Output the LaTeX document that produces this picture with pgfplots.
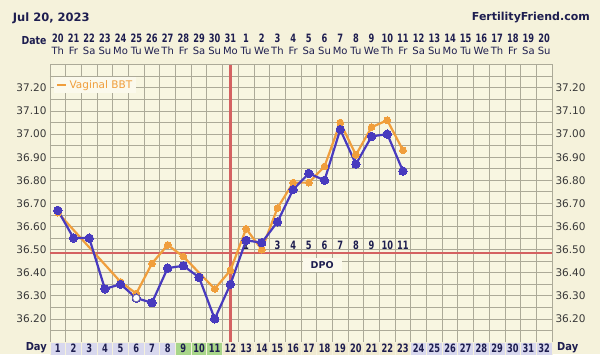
\documentclass[border=0pt]{standalone}
\usepackage{fontspec}
\setmainfont{DejaVu Sans}
\usepackage{graphicx}
\usepackage{pgfplots}
\pgfplotsset{compat=1.18}
\definecolor{outerbg}{RGB}{245,242,219}
\definecolor{plotbg}{RGB}{248,246,225}
\definecolor{gridc}{RGB}{172,170,152}
\definecolor{bbtblue}{RGB}{72,58,190}
\definecolor{bbtorange}{RGB}{240,158,60}
\definecolor{cover}{RGB}{212,98,98}
\definecolor{navy}{RGB}{30,30,80}
\definecolor{lav}{RGB}{216,216,238}
\definecolor{grn}{RGB}{168,214,138}
\definecolor{beige}{RGB}{240,234,208}
\definecolor{legbg}{RGB}{251,249,236}
\newcommand{\nb}[1]{\scalebox{0.72}[1]{\bfseries #1}}
\begin{document}
\begin{tikzpicture}
\fill[outerbg] (-50pt,-12pt) rectangle (550pt,342pt);
\useasboundingbox (-50pt,-12pt) rectangle (550pt,342pt);
% header
\node[anchor=base west, text=navy, font=\fontsize{11.5}{13}\selectfont\bfseries, inner sep=0pt] at (-37.3pt,320pt) {Jul 20, 2023};
\node[anchor=base east, text=navy, font=\fontsize{11}{13}\selectfont\bfseries, inner sep=0pt] at (540pt,321pt) {FertilityFriend.com};
\node[anchor=base east, text=navy, font=\fontsize{11}{12}\selectfont\bfseries, inner sep=0pt] at (-3.3pt,297pt) {\scalebox{0.85}[1]{Date}};
\node[anchor=east, text=navy, font=\fontsize{11}{12}\selectfont\bfseries, inner sep=0pt] at (-3pt,-6pt) {\scalebox{0.9}[1]{Day}};
\node[anchor=west, text=navy, font=\fontsize{11}{12}\selectfont\bfseries, inner sep=0pt] at (5pt+502pt,-6pt) {\scalebox{0.9}[1]{Day}};
\begin{axis}[
  scale only axis, width=502pt, height=277.2pt,
  xmin=0.5, xmax=32.5, ymin=36.10, ymax=37.30,
  axis background/.style={fill=plotbg},
  xtick={1,...,32},
  xticklabel pos=top,
  xticklabels={Th,Fr,Sa,Su,Mo,Tu,We,Th,Fr,Sa,Su,Mo,Tu,We,Th,Fr,Sa,Su,Mo,Tu,We,Th,Fr,Sa,Su,Mo,Tu,We,Th,Fr,Sa,Su},
  xticklabel style={anchor=base, yshift=9.8pt, inner sep=0pt, text=navy, font=\fontsize{10}{12}\selectfont},
  minor xtick={1.5,2.5,...,31.5},
  ytick={36.2,36.3,36.4,36.5,36.6,36.7,36.8,36.9,37.0,37.1,37.2},
  minor ytick={36.15,36.25,36.35,36.45,36.55,36.65,36.75,36.85,36.95,37.05,37.15,37.25},
  yticklabel={\pgfmathprintnumber[fixed,fixed zerofill,precision=2,assume math mode=true]{\tick}},
  yticklabel style={text=black!78, font=\fontsize{10.5}{12}\selectfont},
  xmajorgrids=false, xminorgrids=true, ymajorgrids=true, yminorgrids=true,
  major grid style={gridc, line width=0.8pt},
  minor grid style={gridc, line width=0.8pt},
  major tick length=0pt, minor tick length=0pt,
  axis line style={gridc, line width=0.8pt},
  clip=false,
  legend style={at={(rel axis cs:0.008,0.958)}, anchor=north west, fill=legbg, draw=none,
    font=\fontsize{10.5}{12}\selectfont, text=bbtorange, inner xsep=2pt, inner ysep=1.5pt},
  legend image code/.code={\draw[bbtorange, line width=2.4pt] (0pt,0pt) -- (9pt,0pt);},
]
% day row cells
\pgfplotsinvokeforeach{1,...,8}{\filldraw[fill=lav, draw=outerbg, line width=0.8pt] (axis cs:{#1-0.5},36.10) rectangle (axis cs:{#1+0.5},36.03);}
\pgfplotsinvokeforeach{9,10,11}{\filldraw[fill=grn, draw=outerbg, line width=0.8pt] (axis cs:{#1-0.5},36.10) rectangle (axis cs:{#1+0.5},36.03);}
\pgfplotsinvokeforeach{12,...,23}{\filldraw[fill=beige, draw=outerbg, line width=0.8pt] (axis cs:{#1-0.5},36.10) rectangle (axis cs:{#1+0.5},36.03);}
\pgfplotsinvokeforeach{24,...,32}{\filldraw[fill=lav, draw=outerbg, line width=0.8pt] (axis cs:{#1-0.5},36.10) rectangle (axis cs:{#1+0.5},36.03);}
\pgfplotsinvokeforeach{1,...,32}{\node[text=navy, font=\fontsize{11.5}{12}\selectfont, inner sep=0pt] at (axis cs:#1,36.10) [yshift=-6.3pt] {\nb{#1}};}
% coverline and ovulation line
\addplot[cover, line width=2.6pt, forget plot] coordinates {(0.5,36.485) (32.5,36.485)};
\addplot[cover, line width=2.6pt, forget plot] coordinates {(12,36.10) (12,37.30)};
% vaginal BBT (orange)
\addplot[bbtorange, line width=2.2pt, mark=*, mark size=3.4pt, mark options={fill=bbtorange, draw=bbtorange, line width=0pt}]
 coordinates {(1,36.66)(5,36.36)(6,36.31)(7,36.44)(8,36.52)(9,36.47)(11,36.33)(12,36.41)(13,36.59)(14,36.50)(15,36.68)(16,36.79)(17,36.79)(18,36.86)(19,37.05)(20,36.91)(21,37.03)(22,37.06)(23,36.93)};
\addlegendentry{Vaginal BBT}
% BBT (blue)
\addplot[bbtblue, line width=2.2pt, mark=*, mark size=4.2pt, mark options={fill=bbtblue, draw=bbtblue, line width=0pt}, forget plot]
 coordinates {(1,36.67)(2,36.55)(3,36.55)(4,36.33)(5,36.35)(6,36.29)(7,36.27)(8,36.42)(9,36.43)(10,36.38)(11,36.20)(12,36.35)(13,36.54)(14,36.53)(15,36.62)(16,36.76)(17,36.83)(18,36.80)(19,37.02)(20,36.87)(21,36.99)(22,37.00)(23,36.84)};
\addplot[only marks, mark=*, mark size=3.6pt, mark options={fill=white, draw=gray!70!bbtblue, line width=0.6pt}, forget plot] coordinates {(6,36.29)};
% DPO
\pgfplotsinvokeforeach{1,...,11}{\node[text=navy, font=\fontsize{11.5}{12}\selectfont, inner sep=0pt] at (axis cs:{#1+12},36.517) {\nb{#1}};}
\node[fill=legbg, text=navy, font=\fontsize{9.5}{11}\selectfont\bfseries, inner xsep=8pt, inner ysep=3pt] at (axis cs:17.85,36.433) {DPO};
\end{axis}
\begin{axis}[
  scale only axis, width=502pt, height=277.2pt,
  xmin=0.5, xmax=32.5, ymin=36.10, ymax=37.30,
  axis line style={draw=none}, major tick length=0pt,
  xtick={1,...,32}, xticklabel pos=top,
  xticklabels={\nb{20},\nb{21},\nb{22},\nb{23},\nb{24},\nb{25},\nb{26},\nb{27},\nb{28},\nb{29},\nb{30},\nb{31},\nb{1},\nb{2},\nb{3},\nb{4},\nb{5},\nb{6},\nb{7},\nb{8},\nb{9},\nb{10},\nb{11},\nb{12},\nb{13},\nb{14},\nb{15},\nb{16},\nb{17},\nb{18},\nb{19},\nb{20}},
  xticklabel style={anchor=base, yshift=22.5pt, inner sep=0pt, text=navy, font=\fontsize{11.5}{12}\selectfont},
  ytick={36.2,36.3,36.4,36.5,36.6,36.7,36.8,36.9,37.0,37.1,37.2},
  yticklabel pos=right,
  yticklabel={\pgfmathprintnumber[fixed,fixed zerofill,precision=2,assume math mode=true]{\tick}},
  yticklabel style={text=black!78, font=\fontsize{10.5}{12}\selectfont},
]
\end{axis}
\end{tikzpicture}
\end{document}
